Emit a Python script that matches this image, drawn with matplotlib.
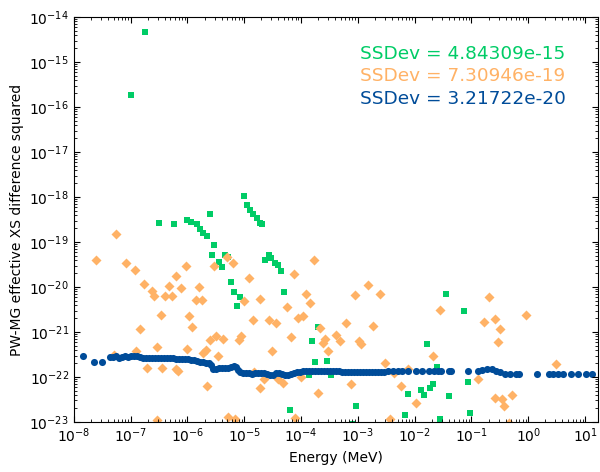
import numpy as np
import matplotlib
matplotlib.use('Agg')
import matplotlib.pyplot as plt
from matplotlib.ticker import LogLocator, NullFormatter

# values, stored as log10(energy / MeV) and log10(diff^2)
green_logE = [-6.74, -7.00, -5.01, -6.50, -6.245, -5.61, -6.00, -5.93, -5.84, -5.78,
              -5.72, -5.66, -5.53, -5.56, -5.45, -5.39, -5.34, -5.28, -5.23, -5.18,
              -5.07, -5.12, -4.95, -4.90, -4.84, -4.78, -4.73, -4.68, -4.57, -4.63,
              -4.53, -4.46, -4.41, -4.35, -4.30, -3.81, -3.71, -3.75, -3.54, -3.86,
              -3.48, -4.19, -3.04, -3.11, -1.79, -1.45, -1.61, -2.11, -1.89, -1.84,
              -1.73, -1.67, -2.17, -1.56, -1.40, -1.13, -1.07, -1.02]
green_logD = [-14.33, -15.73, -17.98, -18.57, -18.59, -18.38, -18.51, -18.56, -18.61, -18.72,
              -18.81, -18.87, -19.07, -19.28, -19.44, -19.55, -19.28, -19.34, -19.90, -20.12,
              -20.23, -20.42, -18.18, -18.29, -18.38, -18.47, -18.57, -18.59, -19.30, -19.41,
              -19.36, -19.47, -19.52, -19.64, -20.12, -21.20, -20.90, -21.67, -21.65, -21.95,
              -21.96, -22.74, -22.64, -23.05, -21.26, -20.16, -21.78, -22.38, -22.30, -22.40,
              -22.24, -22.16, -22.84, -22.93, -22.43, -20.53, -22.11, -22.79]

orange_logE = [-7.26, -7.61, -7.08, -6.93, -6.76, -6.63, -6.59, -6.39, -6.32, -6.20,
               -6.03, -6.12, -6.27, -5.79, -5.85, -5.74, -6.47, -5.98, -5.92, -6.84,
               -6.54, -6.91, -7.30, -6.01, -5.72, -6.71, -6.45, -6.20, -6.16, -6.53,
               -5.65, -5.68, -5.61, -5.50, -5.46, -5.37, -5.31, -5.20, -5.54, -4.91,
               -5.00, -4.84, -4.72, -5.10, -5.05, -5.29, -5.17, -4.73, -4.13, -3.78,
               -3.91, -3.85, -4.24, -4.56, -4.44, -4.06, -3.97, -3.67, -4.18, -3.58,
               -3.62, -4.51, -3.52, -4.66, -4.40, -4.31, -4.00, -3.71, -4.83, -4.11,
               -2.82, -3.05, -2.61, -3.20, -2.74, -3.38, -3.32, -2.98, -2.94, -2.52,
               -1.55, -1.67, -2.11, -2.36, -3.12, -2.24, -1.97, -2.43, -0.69, -0.78,
               -0.59, -0.49, -0.04, -0.53, 0.48, -0.88, -0.58, -0.46, -0.43, -0.29,
               -0.34]
orange_logD = [-18.82, -19.41, -19.47, -19.63, -19.93, -20.09, -20.21, -20.20, -19.98, -19.75,
               -19.54, -20.03, -20.19, -19.99, -20.29, -20.29, -20.63, -20.64, -20.90, -20.93,
               -21.33, -21.42, -21.51, -21.38, -21.47, -21.79, -21.81, -21.83, -21.87, -22.96,
               -22.19, -21.39, -21.18, -21.10, -21.54, -21.16, -19.34, -19.47, -19.53, -19.79,
               -20.32, -20.74, -20.27, -21.18, -21.08, -22.90, -22.93, -22.25, -19.72, -19.40,
               -20.16, -20.35, -20.44, -20.73, -20.81, -20.69, -20.64, -20.92, -21.12, -21.15,
               -21.25, -21.42, -21.43, -22.05, -22.04, -22.13, -22.01, -22.35, -21.90, -22.92,
               -19.96, -20.18, -20.15, -20.80, -20.87, -21.07, -21.19, -21.20, -21.26, -21.68,
               -20.51, -21.54, -21.82, -21.91, -22.15, -22.20, -22.58, -22.94, -20.23, -20.78,
               -20.71, -20.94, -20.62, -21.23, -21.72, -22.04, -22.46, -22.48, -22.64, -22.40,
               -23.02]

blue_logE = [-7.84, -7.65, -7.51, -7.37, -7.31, -7.26, -7.21, -7.15, -7.10, -7.05,
             -7.00, -6.94, -6.89, -6.84, -6.79, -6.73, -6.68, -6.63, -6.57, -6.52,
             -6.47, -6.42, -6.36, -6.31, -6.26, -6.20, -6.15, -6.10, -6.05, -5.99,
             -5.94, -5.89, -5.83, -5.78, -5.73, -5.68, -5.62, -5.59, -5.55, -5.50,
             -5.45, -5.39, -5.34, -5.29, -5.24, -5.18, -5.15, -5.11, -5.08, -5.02,
             -4.97, -4.92, -4.87, -4.81, -4.76, -4.71, -4.65, -4.60, -4.55, -4.50,
             -4.44, -4.39, -4.34, -4.29, -4.23, -4.18, -4.13, -4.07, -4.02, -3.97,
             -3.92, -3.86, -3.81, -3.76, -3.70, -3.65, -3.60, -3.55, -3.49, -3.44,
             -3.39, -3.33, -3.28, -3.23, -3.18, -3.12, -3.07, -3.02, -2.96, -2.91,
             -2.86, -2.81, -2.75, -2.70, -2.65, -2.60, -2.54, -2.47, -2.38, -2.30,
             -2.23, -2.12, -1.98, -1.87, -1.75, -1.66, -1.59, -1.54, -1.40, -1.36,
             -1.06, -0.89, -0.82, -0.73, -0.64, -0.56, -0.49, -0.41, -0.32, -0.22,
             -0.17, 0.16, 0.36, 0.43, 0.52, 0.61, 0.75, 0.87, 1.01, 1.13]
blue_logD = [-21.53, -21.67, -21.66, -21.56, -21.56, -21.54, -21.57, -21.56, -21.54, -21.56,
             -21.54, -21.54, -21.54, -21.56, -21.57, -21.58, -21.58, -21.57, -21.57, -21.58,
             -21.57, -21.58, -21.58, -21.58, -21.58, -21.59, -21.59, -21.60, -21.60, -21.61,
             -21.62, -21.63, -21.64, -21.66, -21.67, -21.68, -21.68, -21.73, -21.82, -21.82,
             -21.81, -21.81, -21.80, -21.79, -21.78, -21.76, -21.78, -21.84, -21.89, -21.91,
             -21.91, -21.92, -21.93, -21.92, -21.91, -21.91, -21.91, -21.93, -21.96, -21.96,
             -21.92, -21.91, -21.93, -21.96, -21.96, -21.94, -21.91, -21.89, -21.88, -21.87,
             -21.86, -21.86, -21.86, -21.86, -21.86, -21.86, -21.86, -21.86, -21.87, -21.87,
             -21.87, -21.87, -21.88, -21.88, -21.88, -21.88, -21.88, -21.88, -21.88, -21.88,
             -21.88, -21.88, -21.88, -21.88, -21.88, -21.88, -21.88, -21.87, -21.87, -21.87,
             -21.87, -21.87, -21.87, -21.87, -21.87, -21.87, -21.87, -21.87, -21.87, -21.87,
             -21.87, -21.87, -21.84, -21.83, -21.83, -21.86, -21.90, -21.93, -21.93, -21.93,
             -21.93, -21.93, -21.93, -21.93, -21.93, -21.93, -21.93, -21.93, -21.93, -21.93]

ssdev_labels = ['SSDev = 4.84309e-15', 'SSDev = 7.30946e-19', 'SSDev = 3.21722e-20']
colors = ['#00CC66', '#FFB266', '#004C99']

plt.rcParams['font.family'] = 'DejaVu Sans'
plt.rcParams['xtick.direction'] = 'in'
plt.rcParams['ytick.direction'] = 'in'

fig = plt.figure(figsize=(6, 4.72), dpi=100)
ax = fig.add_axes([0.123, 0.106, 0.874, 0.858])

ax.scatter(10 ** np.array(green_logE), 10 ** np.array(green_logD), s=24, marker='s',
           color=colors[0], linewidths=0)
ax.scatter(10 ** np.array(orange_logE), 10 ** np.array(orange_logD), s=26, marker='D',
           color=colors[1], linewidths=0)
ax.scatter(10 ** np.array(blue_logE), 10 ** np.array(blue_logD), s=26, marker='o',
           color=colors[2], linewidths=0)

ax.set_xscale('log')
ax.set_yscale('log')
ax.set_xlim(1e-8, 1.7e1)
ax.set_ylim(1e-23, 1e-14)

for axis in (ax.xaxis, ax.yaxis):
    axis.set_major_locator(LogLocator(base=10, numticks=30))
    axis.set_minor_locator(LogLocator(base=10, subs=np.arange(2, 10), numticks=30))
    axis.set_minor_formatter(NullFormatter())

ax.set_xlabel('Energy (MeV)', fontsize=10)
ax.set_ylabel('PW-MG effective XS difference squared', fontsize=10)
ax.tick_params(which='both', top=True, right=True, labelsize=10)
ax.tick_params(which='major', length=4)
ax.tick_params(which='minor', length=2)

for i, txt in enumerate(ssdev_labels):
    ax.text(0.546, 0.909 - 0.0555 * i, txt, color=colors[i], fontsize=13.3,
            va='center', ha='left', transform=ax.transAxes)

fig.savefig('out.png', dpi=100)
